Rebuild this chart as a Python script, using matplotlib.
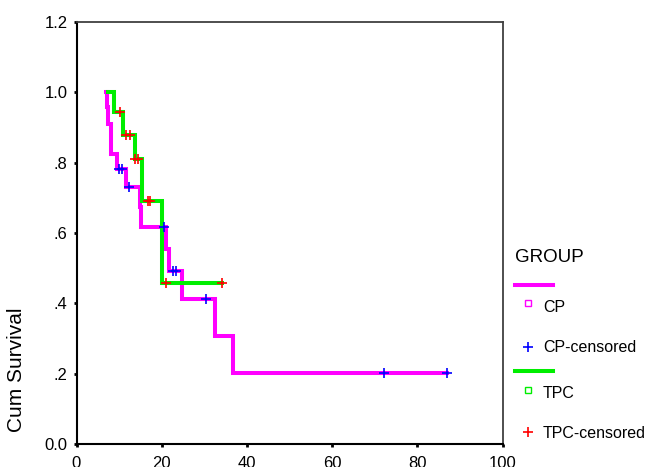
import matplotlib
matplotlib.use("Agg")
import matplotlib.pyplot as plt
from matplotlib.lines import Line2D

plt.rcParams['font.family'] = ['Liberation Sans', 'DejaVu Sans']

# ---- data ----
cp_start = 7.0
cp_event_times = [7.05, 7.5, 8.2, 9.5, 11.7, 14.8, 15.2, 21.1, 21.8, 24.7, 32.6, 36.7]
cp_survival    = [0.958, 0.911, 0.826, 0.783, 0.731, 0.674, 0.617, 0.555, 0.493, 0.412, 0.308, 0.203]
cp_end = 86.9
cp_cens_times = [9.9, 10.7, 12.3, 20.5, 22.6, 23.4, 30.3, 72.1, 86.9]
cp_cens_surv  = [0.783, 0.783, 0.731, 0.617, 0.493, 0.493, 0.412, 0.203, 0.203]

tpc_start = 7.3
tpc_event_times = [8.8, 10.95, 13.7, 15.4, 20.1]
tpc_survival    = [0.944, 0.878, 0.810, 0.691, 0.457]
tpc_end = 34.1
tpc_cens_times = [10.3, 11.7, 12.5, 13.8, 14.5, 16.8, 17.3, 21.0, 34.1]
tpc_cens_surv  = [0.944, 0.878, 0.878, 0.810, 0.810, 0.691, 0.691, 0.457, 0.457]

x_ticks = [0, 20, 40, 60, 80, 100]
y_ticks = [0.0, 0.2, 0.4, 0.6, 0.8, 1.0, 1.2]
y_tick_labels = ['0.0', '.2', '.4', '.6', '.8', '1.0', '1.2']

CP_COLOR = '#FF00FF'
TPC_COLOR = '#00EE00'

W, H = 647, 467
fig = plt.figure(figsize=(W / 100, H / 100), dpi=100)

def fx(px):
    return px / W

def fy(py):
    return 1 - py / H

ax = fig.add_axes([fx(76.5), fy(444), fx(502.7) - fx(76.5), fy(22) - fy(444)])

cp_x = [cp_start] + cp_event_times + [cp_end]
cp_y = [1.0] + cp_survival + [cp_survival[-1]]
tpc_x = [tpc_start] + tpc_event_times + [tpc_end]
tpc_y = [1.0] + tpc_survival + [tpc_survival[-1]]

lw = 2.9
ax.step(cp_x, cp_y, where='post', color=CP_COLOR, lw=lw, solid_joinstyle='miter', zorder=2)
ax.step(tpc_x, tpc_y, where='post', color=TPC_COLOR, lw=lw, solid_joinstyle='miter', zorder=3)
ax.plot(cp_cens_times, cp_cens_surv, ls='none', marker='+', ms=7, mew=1.2, color='#0000FF', zorder=4)
ax.plot(tpc_cens_times, tpc_cens_surv, ls='none', marker='+', ms=7, mew=1.2, color='#FF0000', zorder=4)

ax.set_xlim(0, 100)
ax.set_ylim(0, 1.2)
ax.set_xticks(x_ticks)
ax.set_xticklabels([str(t) for t in x_ticks])
ax.set_yticks(y_ticks)
ax.set_yticklabels(y_tick_labels)
ax.tick_params(axis='both', direction='out', length=2.5, width=2, labelsize=12, colors='black')
ax.tick_params(axis='y', pad=4)
ax.tick_params(axis='x', pad=6)

for s in ['left', 'bottom']:
    ax.spines[s].set_color('black')
    ax.spines[s].set_linewidth(1.5)
for s in ['top', 'right']:
    ax.spines[s].set_color('#404040')
    ax.spines[s].set_linewidth(1.3)

fig.text(fx(17), fy(370), 'Cum Survival', rotation=90, ha='center', va='center', fontsize=15)

# ---- legend (SPSS style) ----
fig.text(fx(515), fy(258), 'GROUP', ha='left', va='center', fontsize=13.5)
fig.add_artist(Line2D([fx(515), fx(553)], [fy(285), fy(285)], color=CP_COLOR, lw=lw, transform=fig.transFigure))
fig.add_artist(Line2D([fx(528)], [fy(303)], ls='none', marker='s', ms=4.5, mew=1, mfc='white', mec=CP_COLOR, transform=fig.transFigure))
fig.text(fx(543), fy(307), 'CP', ha='left', va='center', fontsize=11.5)
fig.add_artist(Line2D([fx(528)], [fy(347)], ls='none', marker='+', ms=7, mew=1.2, color='#0000FF', transform=fig.transFigure))
fig.text(fx(543), fy(348), 'CP-censored', ha='left', va='center', fontsize=11.5)
fig.add_artist(Line2D([fx(515), fx(553)], [fy(371), fy(371)], color=TPC_COLOR, lw=lw, transform=fig.transFigure))
fig.add_artist(Line2D([fx(528)], [fy(390)], ls='none', marker='s', ms=4.5, mew=1, mfc='white', mec=TPC_COLOR, transform=fig.transFigure))
fig.text(fx(543), fy(393), 'TPC', ha='left', va='center', fontsize=11.5)
fig.add_artist(Line2D([fx(528)], [fy(431.5)], ls='none', marker='+', ms=7, mew=1.2, color='#FF0000', transform=fig.transFigure))
fig.text(fx(543), fy(433), 'TPC-censored', ha='left', va='center', fontsize=11.5)

fig.savefig('out.png', dpi=100)
